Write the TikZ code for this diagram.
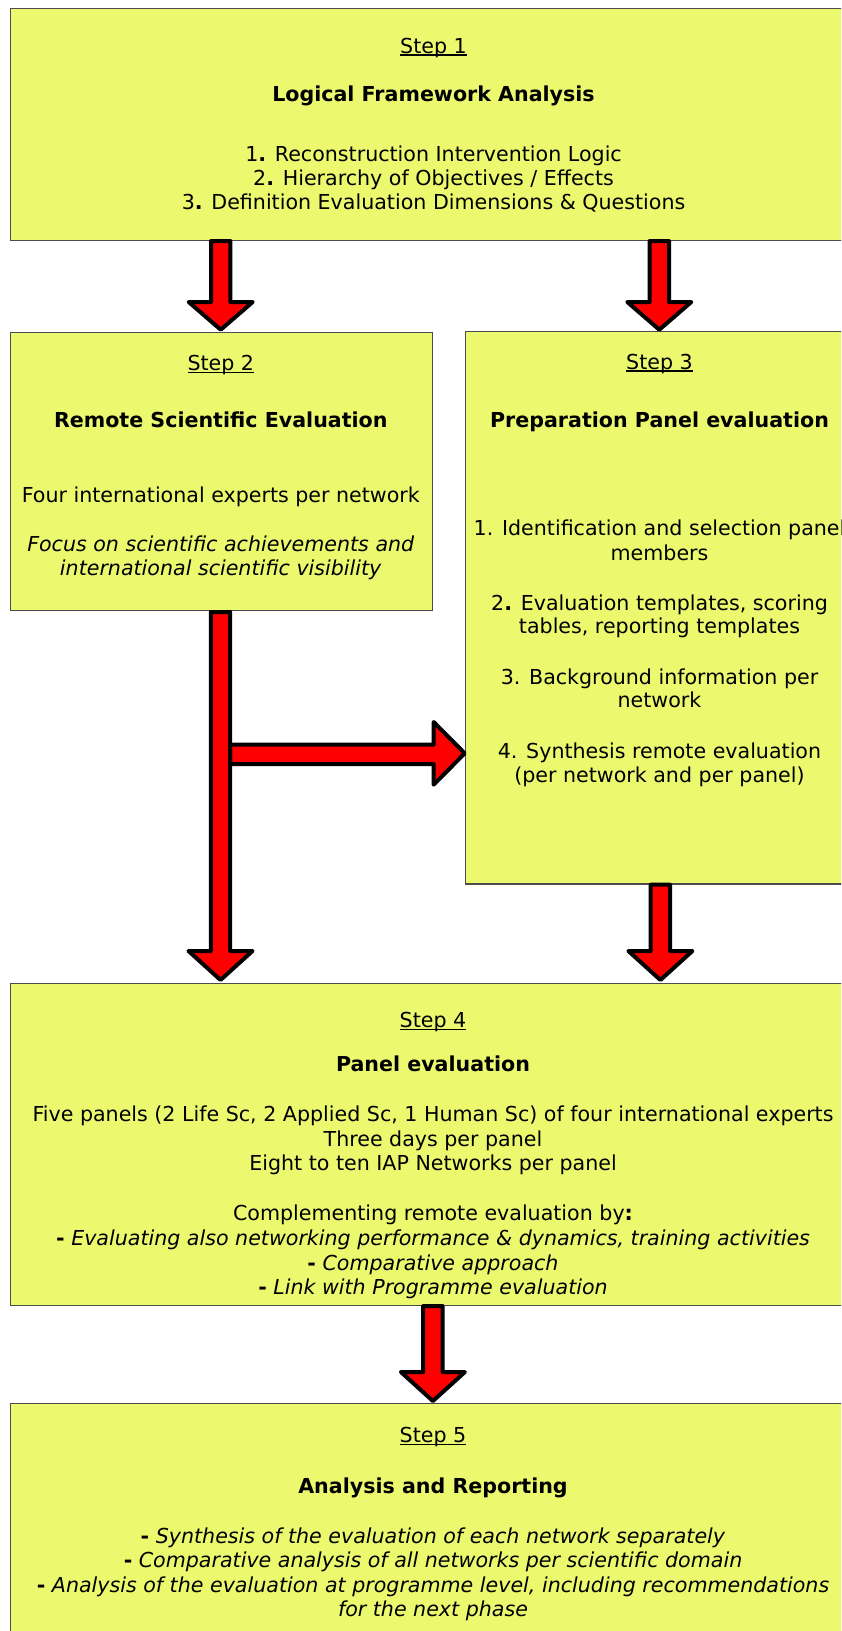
\documentclass[tikz,border=0pt]{standalone}
\usepackage{fontspec}
\setmainfont{DejaVu Sans}[BoldFont={DejaVu Sans Bold},ItalicFont={DejaVu Sans Oblique},BoldItalicFont={DejaVu Sans Bold Oblique}]
\definecolor{boxfill}{RGB}{236,249,110}
\definecolor{arrowred}{RGB}{255,0,0}
\newcommand{\stepul}[1]{\setbox0\hbox{#1}\rlap{\rule[-2.2pt]{\wd0}{1.3pt}}\box0}
\newcommand{\downblock}[4]{%
  \draw[blockarrow] (#1-9.7,#2) -- (#1+9.7,#2) -- (#1+9.7,#3) -- (#1+32,#3) -- (#1,#4) -- (#1-32,#3) -- (#1-9.7,#3) -- cycle;}
\tikzset{
  stepbox/.style={draw=black!70, line width=1.2pt, fill=boxfill, anchor=north west, inner sep=0pt, rectangle},
  txt/.style={anchor=base, inner sep=0pt, font=\fontsize{20.6pt}{24.6pt}\selectfont},
  blockarrow/.style={draw=black, fill=arrowred, line width=4pt, line join=round},
}
\begin{document}
\begin{tikzpicture}[x=1pt,y=-1pt]
\useasboundingbox (0,0) rectangle (841,1631);
\clip (0,0) rectangle (841,1631);
% boxes
\node[stepbox, minimum width=850pt, minimum height=232pt] (s1) at (9.5,8) {};
\node[stepbox, minimum width=422.5pt, minimum height=278.3pt] (s2) at (9.5,331.7) {};
\node[stepbox, minimum width=390pt, minimum height=552.3pt] (s3) at (464.5,331) {};
\node[stepbox, minimum width=850pt, minimum height=322.3pt] (s4) at (9.5,982.7) {};
\node[stepbox, minimum width=850pt, minimum height=250pt] (s5) at (9.5,1403) {};
% arrows
\downblock{220.7}{241}{302}{329.7}
\downblock{659.3}{241}{302}{329.7}
\draw[blockarrow] (230,744.7) -- (433.7,744.7) -- (433.7,722) -- (464.7,753.3) -- (433.7,784.7) -- (433.7,764) -- (230,764) -- cycle;
\downblock{220.5}{612}{951}{980}
\downblock{660.4}{884.7}{951}{980}
\downblock{432.9}{1306}{1372}{1401}
% step 1
\node[txt] (s1a) at (433.5,53.3) {\stepul{Step 1}};
\node[txt] (s1b) at (433.5,101.7) {\textbf{Logical Framework Analysis}};
\node[txt] (s1c) at (433.5,161) {1\textbf{.} Reconstruction Intervention Logic};
\node[txt] (s1d) at (433.5,185) {2\textbf{.} Hierarchy of Objectives / Effects};
\node[txt] (s1e) at (433.5,209) {3\textbf{.} Definition Evaluation Dimensions \& Questions};
% step 2
\node[txt] (s2a) at (220.8,370.7) {\stepul{Step 2}};
\node[txt] (s2b) at (220.8,427.3) {\textbf{Remote Scientific Evaluation}};
\node[txt] (s2c) at (220.8,502.3) {Four international experts per network};
\node[txt] (s2d) at (220.8,551) {\textit{Focus on scientific achievements and}};
\node[txt] (s2e) at (220.8,575.7) {\textit{international scientific visibility}};
% step 3
\node[txt] (s3a) at (659.5,369.5) {\stepul{Step 3}};
\node[txt] (s3b) at (659.5,427.5) {\textbf{Preparation Panel evaluation}};
\node[txt] (s3c) at (659.5,535.7) {1. Identification and selection panel};
\node[txt] (s3d) at (659.5,560) {members};
\node[txt] (s3e) at (659.5,610) {2\textbf{.} Evaluation templates, scoring};
\node[txt] (s3f) at (659.5,633.3) {tables, reporting templates};
\node[txt] (s3g) at (659.5,684) {3. Background information per};
\node[txt] (s3h) at (659.5,707.3) {network};
\node[txt] (s3i) at (659.5,758.7) {4. Synthesis remote evaluation};
\node[txt] (s3j) at (659.5,782) {(per network and per panel)};
% step 4
\node[txt] (s4a) at (433,1027.7) {\stepul{Step 4}};
\node[txt] (s4b) at (433,1071.7) {\textbf{Panel evaluation}};
\node[txt] (s4c) at (433,1121.7) {Five panels (2 Life Sc, 2 Applied Sc, 1 Human Sc) of four international experts};
\node[txt] (s4d) at (433,1146.7) {Three days per panel};
\node[txt] (s4e) at (433,1170.7) {Eight to ten IAP Networks per panel};
\node[txt] (s4f) at (433,1220.7) {Complementing remote evaluation by\textbf{:}};
\node[txt] (s4g) at (433,1245.7) {\textbf{-} \textit{Evaluating also networking performance \& dynamics, training activities}};
\node[txt] (s4h) at (433,1270) {\textbf{-} \textit{Comparative approach}};
\node[txt] (s4i) at (433,1294.3) {\textbf{-} \textit{Link with Programme evaluation}};
% step 5
\node[txt] (s5a) at (433,1442.7) {\stepul{Step 5}};
\node[txt] (s5b) at (433,1493.3) {\textbf{Analysis and Reporting}};
\node[txt] (s5c) at (433,1543.3) {\textbf{-} \textit{Synthesis of the evaluation of each network separately}};
\node[txt] (s5d) at (433,1567.3) {\textbf{-} \textit{Comparative analysis of all networks per scientific domain}};
\node[txt] (s5e) at (433,1592.3) {\textbf{-} \textit{Analysis of the evaluation at programme level, including recommendations}};
\node[txt] (s5f) at (433,1616.7) {\textit{for the next phase}};
\end{tikzpicture}
\end{document}
